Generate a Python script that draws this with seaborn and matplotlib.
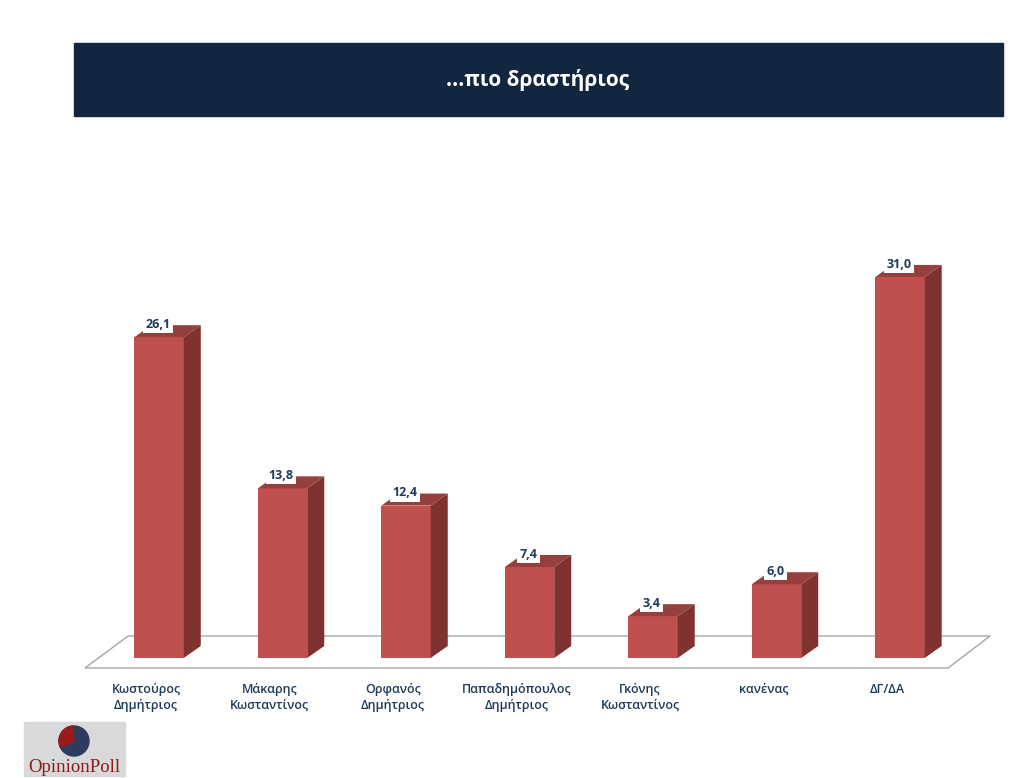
import numpy as np
import pandas as pd
import matplotlib
matplotlib.use("Agg")
import matplotlib.pyplot as plt
import matplotlib.transforms as mtrans
import seaborn as sns
from matplotlib.patches import Polygon, Rectangle, Wedge, Circle

# data
candidates = ["Κωστούρος\nΔημήτριος", "Μάκαρης\nΚωσταντίνος", "Ορφανός\nΔημήτριος",
              "Παπαδημόπουλος\nΔημήτριος", "Γκόνης\nΚωσταντίνος", "κανένας", "ΔΓ/ΔΑ"]
shares = [26.1, 13.8, 12.4, 7.4, 3.4, 6.0, 31.0]
title = "...πιο δραστήριος"

df = pd.DataFrame({"name": candidates, "share": shares})

sns.set_theme(style="white")
plt.rcParams['font.family'] = ['Open Sans', 'DejaVu Sans']

navy = "#13263f"
label_col = "#1f3a5a"
front = "#c0504d"
side = "#7f3230"
top = "#96403d"

fig = plt.figure(figsize=(10.24, 7.78), dpi=100)

# title banner
fig.patches.append(Rectangle((74 / 1024, 1 - 116 / 778), (1003 - 74) / 1024, 73 / 778,
                             transform=fig.transFigure, color=navy, zorder=-1))
fig.text(538 / 1024, 1 - 80 / 778, title, color="white", fontsize=15, fontweight="bold",
         ha="center", va="center")

# main axes: x px 80..1000, y px 130..680
ax = fig.add_axes([80 / 1024, 1 - 680 / 778, 920 / 1024, 550 / 778])
bw = 0.40
sns.barplot(data=df, x="name", y="share", color=front, width=bw, saturation=1,
            edgecolor="none", ax=ax, zorder=3)

ax.set_xlim(-0.64, 6.81)
ax.set_ylim(-1.79, 42.96)
for s in ax.spines.values():
    s.set_visible(False)
ax.set_yticks([])
ax.set_xlabel("")
ax.set_ylabel("")
ax.tick_params(axis="x", length=0, pad=2)
shift = mtrans.ScaledTranslation(-13 / 100, 0, fig.dpi_scale_trans)
for t in ax.get_xticklabels():
    t.set_color(label_col)
    t.set_fontsize(9)
    t.set_fontweight("semibold")
    t.set_linespacing(1.3)
    t.set_transform(t.get_transform() + shift)

# floor
floor = Polygon([(-0.60, -0.81), (6.39, -0.81), (6.73, 1.79), (-0.25, 1.79)],
                closed=True, facecolor="white", edgecolor="#a6a6a6", lw=1.0, zorder=1)
ax.add_patch(floor)

# 3d sides and tops
dx, dy = 0.138, 0.98
for i, v in enumerate(shares):
    xl, xr = i - bw / 2, i + bw / 2
    ax.add_patch(Polygon([(xr, 0), (xr + dx, dy), (xr + dx, v + dy), (xr, v)],
                         closed=True, facecolor=side, edgecolor="none", zorder=3))
    ax.add_patch(Polygon([(xl, v), (xr, v), (xr + dx, v + dy), (xl + dx, v + dy)],
                         closed=True, facecolor=top, edgecolor="none", zorder=3))
    ax.text(i - 0.01, v + 1.05, f"{v:.1f}".replace(".", ","), ha="center", va="center",
            fontsize=9, fontweight="bold", color=label_col, zorder=5,
            bbox=dict(boxstyle="square,pad=0.2", facecolor="white", edgecolor="none"))

# logo
fig.patches.append(Rectangle((24 / 1024, 1 - 776 / 778), 101 / 1024, 54 / 778,
                             transform=fig.transFigure, color="#d9d9d9", zorder=-1))
lax = fig.add_axes([24 / 1024, 1 - 776 / 778, 101 / 1024, 54 / 778])
lax.set_xlim(0, 101)
lax.set_ylim(54, 0)
lax.axis("off")
lax.add_patch(Circle((50, 19), 15, color="#2f3b5c"))
lax.add_patch(Wedge((50, 19), 15, 155, 265, color="#9b1b1b"))
lax.text(50, 45, "OpinionPoll", ha="center", va="center", fontsize=13.5,
         color="#8b1a1a", family=["Liberation Serif", "DejaVu Serif"])

fig.savefig("out.png", dpi=100)
